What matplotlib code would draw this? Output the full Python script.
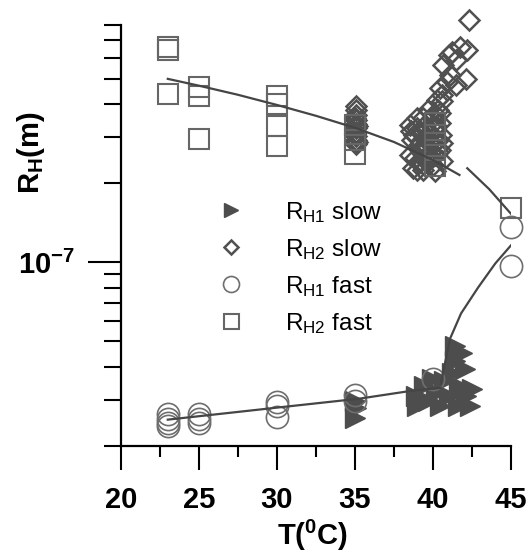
"""Hydrodynamic radius vs temperature, log scale, slow and fast modes."""

import matplotlib

matplotlib.use("Agg")
import matplotlib.pyplot as plt
from matplotlib.ticker import FixedLocator, NullFormatter

plt.rcParams["font.family"] = ["Liberation Sans", "DejaVu Sans"]
plt.rcParams["mathtext.fontset"] = "custom"
plt.rcParams["mathtext.rm"] = "Liberation Sans"
plt.rcParams["mathtext.it"] = "Liberation Sans:italic"
plt.rcParams["mathtext.bf"] = "Liberation Sans:bold"

UNIT = 1e-7  # all R_H values below are in units of 1e-7 m

# R_H1 slow (filled triangles)
h1_slow_T = [35.0, 35.05, 35.0, 38.9, 39.0, 39.4, 39.7, 39.95, 40.2, 40.45,
             40.7, 41.0, 41.2, 41.4, 41.4, 41.85, 42.05, 41.7, 42.1, 42.35,
             42.5, 41.6]
h1_slow_R = [0.297, 0.278, 0.256, 0.311, 0.285, 0.339, 0.297, 0.361, 0.319,
             0.285, 0.355, 0.311, 0.380, 0.482, 0.423, 0.453, 0.394, 0.339,
             0.311, 0.285, 0.330, 0.285]

# R_H2 slow (open diamonds)
h2_slow_T = [35.05, 35.05, 35.05, 35.05, 35.05, 35.05, 35.05, 35.05, 35.05, 35.05,
             35.0, 35.1, 35.0, 35.1,
             42.3, 41.73, 42.2, 41.2, 41.5, 41.0, 40.65, 42.1, 41.1, 40.9,
             41.5, 40.45, 40.6, 40.25, 40.6, 40.45, 39.35, 38.95,
             38.5, 38.65, 38.5, 38.7, 39.0, 39.15, 39.0, 39.15, 38.95,
             39.5, 39.6, 39.5, 39.7, 39.35, 39.95, 40.05, 39.95, 40.1, 40.0,
             40.45, 40.5, 40.45, 40.6, 40.3, 39.7,
             38.8, 39.25, 39.8, 40.25, 40.35, 39.3, 38.85, 39.85, 40.2, 39.55,
             40.0, 39.1, 40.55, 38.6, 39.4, 40.15,
             39.2, 39.6, 39.9, 39.45, 39.75, 40.05, 39.35, 39.65]
h2_slow_R = [3.94, 3.80, 3.64, 3.48, 3.36, 3.25, 3.13, 3.03, 2.92, 2.82,
             3.55, 3.30, 3.08, 2.87,
             8.39, 6.60, 6.45, 6.30, 5.90, 6.17, 5.65, 5.00, 5.17, 4.85,
             4.74, 4.60, 4.34, 4.15, 4.10, 3.70, 3.55, 3.25,
             3.33, 2.92, 2.56, 2.28, 3.55, 3.14, 2.74, 2.45, 2.24,
             3.33, 2.97, 2.68, 2.42, 2.24, 3.55, 3.19, 2.80, 2.56, 2.35,
             3.40, 3.05, 2.68, 2.42, 3.80, 3.80,
             3.05, 2.85, 3.10, 2.90, 2.62, 2.60, 2.50, 2.50, 3.30, 3.20,
             2.95, 2.38, 2.85, 3.15, 2.75, 2.22,
             2.70, 2.78, 2.66, 2.98, 2.86, 3.00, 2.36, 2.52]

# R_H1 fast (open circles)
h1_fast_T = [23, 23, 23, 23, 25, 25, 25, 30, 30, 30, 35, 35, 40, 45, 45]
h1_fast_R = [0.265, 0.254, 0.245, 0.239, 0.265, 0.254, 0.245,
             0.295, 0.285, 0.258, 0.313, 0.297, 0.361, 1.36, 0.966]

# R_H2 fast (open squares)
h2_fast_T = [23, 23, 23, 25, 25, 25, 30, 30, 30, 30, 35, 35, 35,
             40.1, 40.1, 40.1, 40.1, 45]
h2_fast_R = [6.62, 6.45, 4.38, 4.65, 4.30, 2.95, 4.30, 4.01, 3.30, 2.77,
             3.33, 2.92, 2.58, 3.40, 3.05, 2.68, 2.32, 1.61]

# fitted guide lines
upper_fit_T = [23, 25, 27.5, 30, 32.5, 35, 37.5, 40, 41.7]
upper_fit_R = [4.99, 4.70, 4.34, 3.97, 3.61, 3.25, 2.87, 2.45, 2.15]
upper_fit2_T = [42.2, 43.6, 45.0]
upper_fit2_R = [2.28, 1.90, 1.53]
lower_fit_T = [23, 30, 35.3, 38.7, 40.5]
lower_fit_R = [0.252, 0.280, 0.303, 0.325, 0.333]
lower_fit2_T = [40.5, 41.1, 41.8, 42.9, 44.0, 45.0]
lower_fit2_R = [0.345, 0.513, 0.639, 0.803, 0.991, 1.16]

x_ticks = [20, 25, 30, 35, 40, 45]
x_minor = [22.5, 27.5, 32.5, 37.5, 42.5]


def scaled(values):
    return [v * UNIT for v in values]


fig = plt.figure(figsize=(5.29, 5.54), dpi=100)
ax = fig.add_axes([0.2287, 0.1949, 0.7372, 0.7600])

ax.plot(h1_slow_T, scaled(h1_slow_R), ">", ms=14, color="#4d4d4d",
        mec="#4d4d4d", ls="none", label=r"R$_{\rm H1}$ slow", zorder=2,
        clip_on=False)
ax.plot(h2_slow_T, scaled(h2_slow_R), "D", ms=10, mfc="none", mec="#505050",
        mew=1.8, ls="none", label=r"R$_{\rm H2}$ slow", zorder=3, clip_on=False)
ax.plot(h1_fast_T, scaled(h1_fast_R), "o", ms=16, mfc="none", mec="#6e6e6e",
        mew=1.2, ls="none", label=r"R$_{\rm H1}$ fast", zorder=4, clip_on=False)
ax.plot(h2_fast_T, scaled(h2_fast_R), "s", ms=15, mfc="none", mec="#666666",
        mew=1.5, ls="none", label=r"R$_{\rm H2}$ fast", zorder=4, clip_on=False)

for fx, fy in [(upper_fit_T, upper_fit_R), (upper_fit2_T, upper_fit2_R),
               (lower_fit_T, lower_fit_R), (lower_fit2_T, lower_fit2_R)]:
    ax.plot(fx, scaled(fy), "-", color="#454545", lw=1.6, zorder=5)

ax.set_yscale("log")
ax.set_xlim(20, 45)
ax.set_ylim(2e-8, 8e-7)

ax.set_xticks(x_ticks)
ax.set_xticklabels([str(t) for t in x_ticks])
ax.xaxis.set_minor_locator(FixedLocator(x_minor))
ax.set_yticks([1e-7])
ax.set_yticklabels([r"$\mathbf{10^{-7}}$"])
ax.yaxis.set_minor_locator(FixedLocator(
    [2e-8, 3e-8, 4e-8, 5e-8, 6e-8, 7e-8, 8e-8, 9e-8,
     2e-7, 3e-7, 4e-7, 5e-7, 6e-7, 7e-7, 8e-7]))
ax.yaxis.set_minor_formatter(NullFormatter())

for s in ("top", "right"):
    ax.spines[s].set_visible(False)
for s in ("left", "bottom"):
    ax.spines[s].set_linewidth(1.6)

ax.tick_params(axis="x", which="major", direction="out", length=17, width=1.5,
               pad=12, labelsize=21)
ax.tick_params(axis="x", which="minor", direction="out", length=8, width=1.5)
ax.tick_params(axis="y", which="major", direction="out", length=24, width=1.5,
               pad=9, labelsize=21)
ax.tick_params(axis="y", which="minor", direction="out", length=12, width=1.5)
for lab in ax.get_xticklabels():
    lab.set_fontweight("bold")

ax.set_xlabel(r"$\mathbf{T(^0C)}$", fontsize=21, va="center")
ax.xaxis.set_label_coords(0.492, -0.213)
ax.set_ylabel(r"$\mathbf{R_H(m)}$", fontsize=21, va="center")
ax.yaxis.set_label_coords(-0.231, 0.696)

ax.legend(loc="upper left", bbox_to_anchor=(0.242, 0.585), frameon=False,
          fontsize=17.5, markerscale=0.72, handlelength=1.3, handletextpad=1.55,
          labelspacing=0.5, borderpad=0, borderaxespad=0)

fig.savefig("out.png", dpi=100)
plt.close(fig)
